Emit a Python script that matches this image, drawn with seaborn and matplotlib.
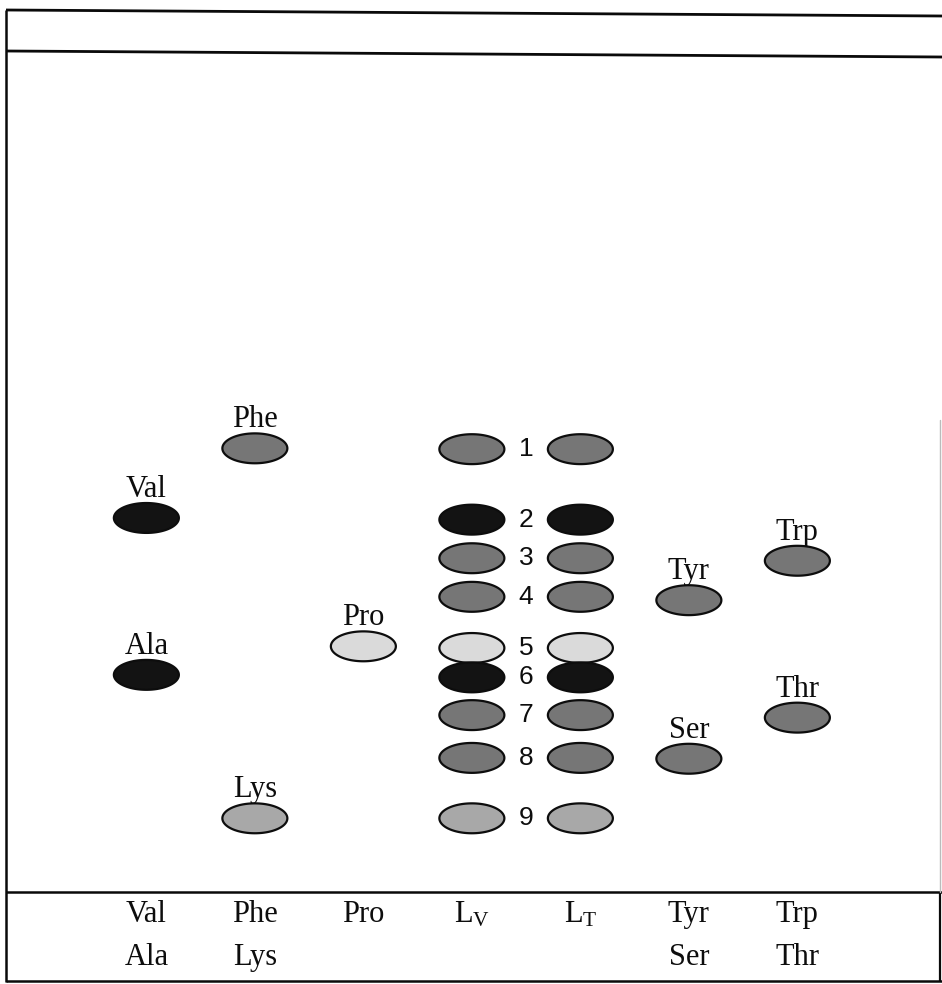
import numpy as np
import pandas as pd
import seaborn as sns
import matplotlib as mpl
import matplotlib.pyplot as plt
from matplotlib.path import Path

# ---------------- data ----------------
lane_top_labels = ["Val", "Phe", "Pro", r"L$_{\mathrm{V}}$", r"L$_{\mathrm{T}}$", "Tyr", "Trp"]
lane_bottom_labels = ["Ala", "Lys", "", "", "", "Ser", "Thr"]

std_names = ["Val", "Ala", "Phe", "Lys", "Pro", "Tyr", "Ser", "Trp", "Thr"]
std_lane = [0, 0, 1, 1, 2, 5, 5, 6, 6]
std_rf = [0.447, 0.260, 0.530, 0.089, 0.294, 0.349, 0.160, 0.396, 0.209]
std_shade = ["dark", "dark", "medium", "light", "pale", "medium", "medium", "medium", "medium"]

mix_numbers = ["1", "2", "3", "4", "5", "6", "7", "8", "9"]
mix_rf = [0.529, 0.445, 0.399, 0.353, 0.292, 0.257, 0.212, 0.161, 0.089]
mix_shade = ["medium", "dark", "medium", "medium", "pale", "dark", "medium", "medium", "light"]
mix_lanes = [3, 4]  # L_V and L_T

shade_palette = {"dark": "#131313", "medium": "#767676", "light": "#a8a8a8", "pale": "#dadada"}

# ---------------- table ----------------
rows = []
for n, l, r, s in zip(std_names, std_lane, std_rf, std_shade):
    rows.append({"name": n, "lane": l, "rf": r, "shade": s})
for l in mix_lanes:
    for n, r, s in zip(mix_numbers, mix_rf, mix_shade):
        rows.append({"name": n, "lane": l, "rf": r, "shade": s})
df = pd.DataFrame(rows)

# ---------------- style ----------------
sns.set_style("white")
plt.rcParams["font.family"] = ["Liberation Serif", "DejaVu Serif"]
plt.rcParams["mathtext.fontset"] = "custom"
plt.rcParams["mathtext.rm"] = "Liberation Serif"
plt.rcParams["mathtext.it"] = "Liberation Serif:italic"

W, H = 942, 984
fig = plt.figure(figsize=(W / 100, H / 100), dpi=100)
ax = fig.add_axes([0, 0, 1, 1])
ax.set_xlim(-1.349, 7.333)
ax.set_ylim(-0.1085, 1.0644)
ax.axis("off")

# ellipse marker
t = np.linspace(0, 2 * np.pi, 120)
ellipse = Path(np.column_stack([np.cos(t), 0.46 * np.sin(t)]), closed=True)

sns.scatterplot(data=df, x="lane", y="rf", hue="shade", palette=shade_palette,
                marker=ellipse, s=2190, edgecolor="#0d0d0d", linewidth=1.6,
                legend=False, ax=ax, zorder=3)

# standard labels above spots
for n, l, r in zip(std_names, std_lane, std_rf):
    ax.annotate(n, (l, r), xytext=(0, 15), textcoords="offset points",
                ha="center", va="baseline", fontsize=22, color="#0d0d0d")

# spot numbers between L_V and L_T
mid = (mix_lanes[0] + mix_lanes[1]) / 2
for n, r in zip(mix_numbers, mix_rf):
    ax.text(mid, r, n, ha="center", va="center", fontsize=19,
            family=["Liberation Sans", "DejaVu Sans"], color="#0d0d0d")

# lane labels below the origin line
for i, (a, b) in enumerate(zip(lane_top_labels, lane_bottom_labels)):
    ax.text(i, -0.0346, a, ha="center", va="baseline", fontsize=22, color="#0d0d0d")
    if b:
        ax.text(i, -0.0858, b, ha="center", va="baseline", fontsize=22, color="#0d0d0d")

# ---------------- plate frame (axes fraction) ----------------
def fx(px):
    return px / W

def fy(py):
    return 1 - py / H

frame_kw = dict(transform=ax.transAxes, color="#0a0a0a", solid_capstyle="butt", zorder=1)
ax.plot([fx(6), fx(942)], [fy(10), fy(16)], lw=2.0, **frame_kw)
ax.plot([fx(6), fx(942)], [fy(51), fy(57)], lw=2.0, **frame_kw)
ax.plot([fx(6), fx(6)], [fy(10), fy(982)], lw=1.8, **frame_kw)
ax.plot([fx(6), fx(942)], [fy(892), fy(892)], lw=1.8, **frame_kw)
ax.plot([fx(6), fx(942)], [fy(981), fy(981)], lw=1.8, **frame_kw)
ax.plot([fx(939.5), fx(939.5)], [fy(892), fy(982)], lw=1.6, **frame_kw)
ax.plot([fx(939.5), fx(939.5)], [fy(420), fy(892)], lw=1.0, transform=ax.transAxes,
        color="#bbbbbb", zorder=1)

fig.savefig("out.png", dpi=100)
